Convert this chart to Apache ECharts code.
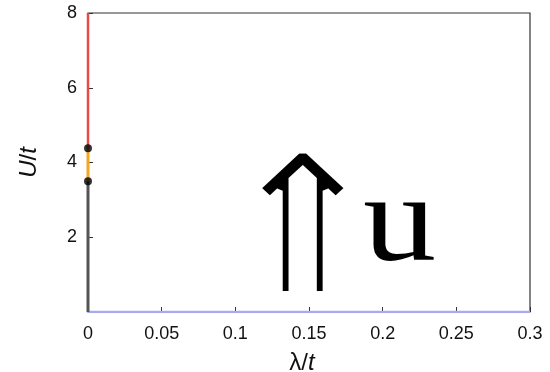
<!DOCTYPE html>
<html>
<head>
<meta charset="utf-8">
<script src="https://cdn.jsdelivr.net/npm/echarts@6/dist/echarts.min.js"></script>
<style>
  html, body { margin: 0; padding: 0; background: #fff; }
  #chart { width: 550px; height: 372px; }
</style>
</head>
<body>
<div id="chart"></div>
<script>
// Phase boundaries along lambda = 0 and along U = 0
const grayBranch = [[0, 0], [0, 3.5]];
const orangeBranch = [[0, 3.5], [0, 4.38]];
const redBranch = [[0, 4.38], [0, 8]];
const blueBranch = [[0, 0], [0.3, 0]];
const criticalPoints = [[0, 3.5], [0, 4.38]];

const xTicks = [0, 0.05, 0.1, 0.15, 0.2, 0.25, 0.3];
const yTicks = [2, 4, 6, 8];

const chart = echarts.init(document.getElementById('chart'));
const tickFont = { fontFamily: 'Liberation Sans, Arial, sans-serif', fontSize: 18, color: '#111' };
const nameFont = { fontFamily: 'Liberation Sans, Arial', fontSize: 24, color: '#111' };
const italic = Object.assign({ fontStyle: 'italic' }, nameFont);

const arrowFont = '196px "Noto Sans CJK JP", sans-serif';

chart.setOption({
  animation: false,
  grid: { left: 88, right: 20, top: 13, bottom: 60, show: true, borderColor: '#333', borderWidth: 1.2,
          containLabel: false, outerBoundsMode: 'none' },
  xAxis: {
    type: 'value', min: 0, max: 0.3, interval: 0.05,
    axisLine: { show: false },
    axisTick: { inside: true, length: 5, lineStyle: { color: '#333' } },
    splitLine: { show: false },
    axisLabel: Object.assign({ margin: 13, formatter: v => {
      const t = xTicks.find(k => Math.abs(k - v) < 1e-9);
      return t === undefined ? '' : String(t);
    } }, tickFont),
    name: '{g|λ}{n|/}{i|t}', nameLocation: 'middle', nameGap: 39,
    nameTextStyle: { padding: [0, 14, 0, 0], rich: { g: nameFont, n: nameFont, i: italic } }
  },
  yAxis: {
    type: 'value', min: 0, max: 8, interval: 2,
    axisLine: { show: false },
    axisTick: { inside: true, length: 5, lineStyle: { color: '#333' } },
    splitLine: { show: false },
    axisLabel: Object.assign({ margin: 11, formatter: v => yTicks.includes(v) ? String(v) : '' }, tickFont),
    name: '{i|U}{n|/}{i|t}', nameLocation: 'middle', nameGap: 47, nameRotate: 90,
    nameTextStyle: { rich: { n: nameFont, i: italic } }
  },
  graphic: [
    { type: 'text', x: 363, y: 165, scaleX: 1.18, z: 10,
      style: { text: 'u', font: '124px "Liberation Serif", serif', fill: '#000',
               align: 'left', verticalAlign: 'top' } },
    { type: 'text', x: 214, y: 122, scaleX: 1.08, z: 10,
      style: { text: '⇑', font: arrowFont, fill: '#000', align: 'left', verticalAlign: 'top' } },
    // a white outline laid over the glyph thins its strokes
    { type: 'text', x: 214, y: 122, scaleX: 1.08, z: 11,
      style: { text: '⇑', font: arrowFont, fill: 'none', stroke: '#fff', lineWidth: 6,
               align: 'left', verticalAlign: 'top' } }
  ],
  series: [
    { type: 'line', data: blueBranch, symbol: 'none', lineStyle: { color: '#aaaaee', width: 2.5 } },
    { type: 'line', data: grayBranch, symbol: 'none', lineStyle: { color: '#555', width: 3 } },
    { type: 'line', data: orangeBranch, symbol: 'none', lineStyle: { color: '#f5a623', width: 3 } },
    { type: 'line', data: redBranch, symbol: 'none', lineStyle: { color: '#e84a4a', width: 2.5 } },
    { type: 'scatter', data: criticalPoints, symbolSize: 8, itemStyle: { color: '#000' }, z: 5 }
  ]
});
</script>
</body>
</html>
